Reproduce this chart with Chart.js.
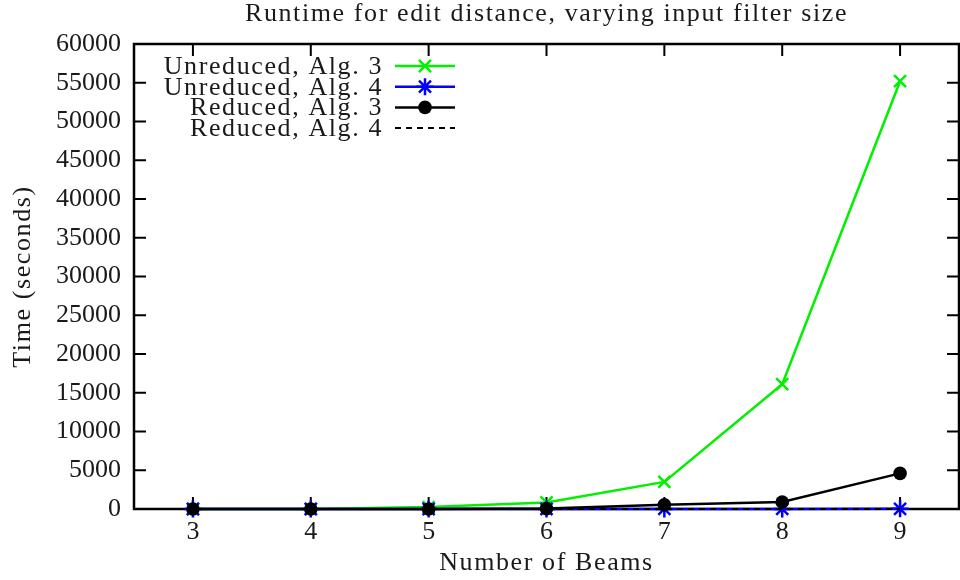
<!DOCTYPE html>
<html>
<head>
<meta charset="utf-8">
<title>Runtime for edit distance</title>
<script src="https://cdn.jsdelivr.net/npm/chart.js@4"></script>
<style>
    html, body { margin: 0; padding: 0; overflow: hidden; background: #fff; }
    #wrap { width: 960px; height: 580px; position: relative; }
    #runtimeChart { display: block; }
</style>
</head>
<body>
<div id="wrap"><canvas id="runtimeChart"></canvas></div>
<script>
// Number of beams on the x axis
const beams = ['3', '4', '5', '6', '7', '8', '9'];

// Runtimes in seconds
const unreducedAlg3 = [0, 10, 250, 850, 3500, 16100, 55200];
const unreducedAlg4 = [0, 0, 0, 2, 5, 10, 20];
const reducedAlg3 = [0, 0, 5, 50, 550, 900, 4600];
const reducedAlg4 = [0, 0, 0, 1, 3, 6, 12];

const yMax = 60000;
const yStep = 5000;

const serif = '"Liberation Serif", "DejaVu Serif", serif';
const textColor = '#1a1a1a';
const wordSpacing = '1.6px';

// Titles get a little letter spacing, tick numbers none
const spacingPlugin = {
    id: 'spacing',
    beforeDraw(chart) { chart.ctx.letterSpacing = wordSpacing; },
    beforeDatasetsDraw(chart) { chart.ctx.letterSpacing = '0px'; }
};

// gnuplot style frame with inward ticks on all four sides
const framePlugin = {
    id: 'frame',
    beforeDatasetsDraw(chart) {
        const { ctx, chartArea: a, scales } = chart;
        const tick = 12;
        ctx.save();
        ctx.strokeStyle = '#000';
        ctx.lineWidth = 2;
        ctx.beginPath();
        scales.x.ticks.forEach((t, i) => {
            const x = scales.x.getPixelForTick(i);
            ctx.moveTo(x, a.bottom); ctx.lineTo(x, a.bottom - tick);
            ctx.moveTo(x, a.top); ctx.lineTo(x, a.top + tick);
        });
        scales.y.ticks.forEach((t, i) => {
            const y = scales.y.getPixelForTick(i);
            ctx.moveTo(a.left, y); ctx.lineTo(a.left + tick, y);
            ctx.moveTo(a.right, y); ctx.lineTo(a.right - tick, y);
        });
        ctx.stroke();
        ctx.lineWidth = 2.5;
        ctx.strokeRect(a.left, a.top, a.right - a.left, a.bottom - a.top);
        ctx.restore();
    }
};

// Key in the top left corner: label right aligned, sample to its right
const keyPlugin = {
    id: 'key',
    afterDraw(chart) {
        const { ctx, chartArea: a } = chart;
        const textRight = a.left + 249;
        const lineStart = a.left + 261;
        const lineEnd = a.left + 321;
        const rowTop = a.top + 22;
        const rowGap = 20.7;
        ctx.save();
        ctx.letterSpacing = wordSpacing;
        ctx.font = '26px ' + serif;
        ctx.textAlign = 'right';
        ctx.textBaseline = 'middle';
        chart.data.datasets.forEach((ds, i) => {
            const y = rowTop + i * rowGap;
            ctx.fillStyle = textColor;
            ctx.fillText(ds.label, textRight, y + 1);
            ctx.strokeStyle = ds.borderColor;
            ctx.lineWidth = ds.borderWidth;
            ctx.setLineDash(ds.borderDash || []);
            ctx.beginPath();
            ctx.moveTo(lineStart, y);
            ctx.lineTo(lineEnd, y);
            ctx.stroke();
            ctx.setLineDash([]);
            if (ds.pointRadius > 0) {
                ctx.fillStyle = ds.pointBackgroundColor;
                ctx.lineWidth = ds.pointBorderWidth;
                Chart.helpers.drawPoint(ctx, {
                    pointStyle: ds.pointStyle,
                    radius: ds.pointRadius,
                    rotation: 0,
                    borderWidth: ds.pointBorderWidth
                }, (lineStart + lineEnd) / 2, y);
            }
        });
        ctx.restore();
    }
};

const runtimeCtx = document.getElementById('runtimeChart').getContext('2d');
const runtimeChart = new Chart(runtimeCtx, {
    type: 'line',
    data: {
        labels: beams,
        datasets: [{
            label: 'Unreduced, Alg. 3',
            data: unreducedAlg3,
            borderColor: '#00f000',
            backgroundColor: '#00f000',
            pointBackgroundColor: '#00f000',
            borderWidth: 2.5,
            pointStyle: 'crossRot',
            pointRadius: 8.5,
            pointBorderWidth: 2.5,
            order: 3,
            clip: false
        }, {
            label: 'Unreduced, Alg. 4',
            data: unreducedAlg4,
            borderColor: '#0000ff',
            backgroundColor: '#0000ff',
            pointBackgroundColor: '#0000ff',
            borderWidth: 2.5,
            pointStyle: 'star',
            pointRadius: 8.5,
            pointBorderWidth: 2.5,
            order: 2,
            clip: false
        }, {
            label: 'Reduced, Alg. 3',
            data: reducedAlg3,
            borderColor: '#000000',
            backgroundColor: '#000000',
            pointBackgroundColor: '#000000',
            borderWidth: 2.5,
            pointStyle: 'circle',
            pointRadius: 6.8,
            pointBorderWidth: 0,
            order: 1,
            clip: false
        }, {
            label: 'Reduced, Alg. 4',
            data: reducedAlg4,
            borderColor: '#000000',
            backgroundColor: '#000000',
            pointBackgroundColor: '#000000',
            borderWidth: 2,
            borderDash: [6, 5],
            pointRadius: 0,
            order: 0,
            clip: false
        }]
    },
    options: {
        responsive: true,
        maintainAspectRatio: false,
        animation: false,
        layout: { autoPadding: false, padding: { left: 0, right: 1, top: 0, bottom: 0 } },
        plugins: {
            legend: { display: false },
            tooltip: { enabled: false },
            title: {
                display: true,
                fullSize: false,
                text: 'Runtime for edit distance, varying input filter size',
                color: textColor,
                font: { family: serif, size: 26, weight: 'normal', lineHeight: 1 },
                padding: { top: 1, bottom: 17 }
            }
        },
        scales: {
            x: {
                type: 'category',
                offset: true,
                grid: { display: false, drawTicks: false },
                border: { display: false },
                ticks: {
                    z: 1,
                    color: textColor,
                    padding: 10,
                    maxRotation: 0,
                    font: { family: serif, size: 26, lineHeight: 1 }
                },
                title: {
                    display: true,
                    text: 'Number of Beams',
                    color: textColor,
                    font: { family: serif, size: 26, lineHeight: 1 },
                    padding: { top: 0, bottom: 4 }
                },
                afterFit(scale) {
                    scale.height = 71;
                    scale.paddingLeft = 0;
                    scale.paddingRight = 0;
                }
            },
            y: {
                min: 0,
                max: yMax,
                grid: { display: false, drawTicks: false },
                border: { display: false },
                ticks: {
                    z: 1,
                    stepSize: yStep,
                    color: textColor,
                    padding: 13,
                    font: { family: serif, size: 26, lineHeight: 1 },
                    callback: (value) => String(value)
                },
                title: {
                    display: true,
                    text: 'Time (seconds)',
                    color: textColor,
                    font: { family: serif, size: 26, lineHeight: 1 },
                    padding: { top: 10, bottom: 0 }
                },
                afterFit(scale) { scale.width = 134; }
            }
        }
    },
    plugins: [spacingPlugin, framePlugin, keyPlugin]
});
</script>
</body>
</html>
